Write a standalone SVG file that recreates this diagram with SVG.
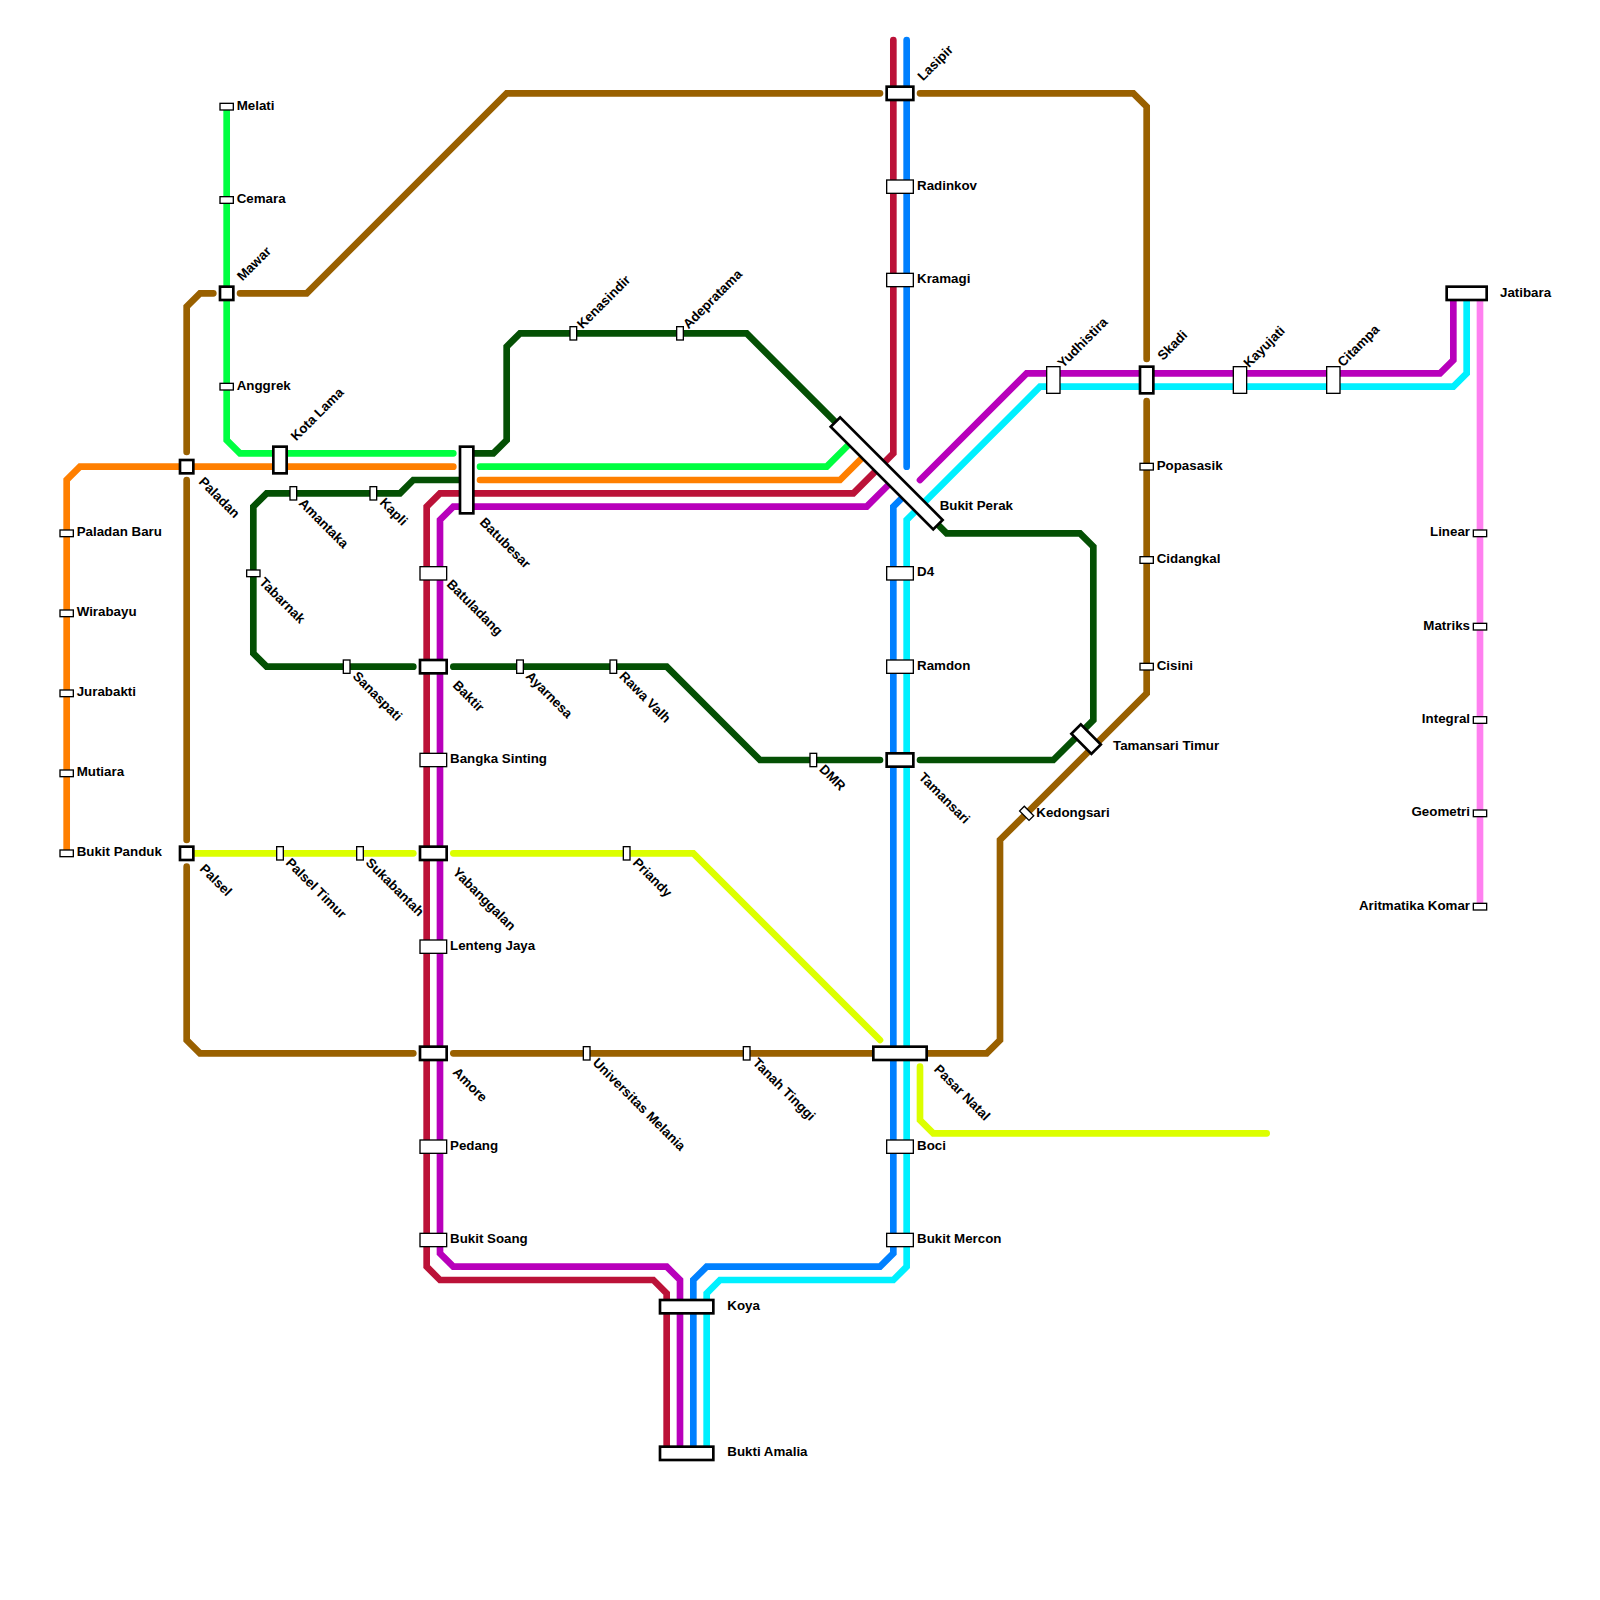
<svg xmlns="http://www.w3.org/2000/svg" width="1600" height="1600" viewBox="0 0 1600 1600">
<style>
.l{fill:none;stroke-width:6.67;stroke-linecap:round;stroke-linejoin:miter}
.or{stroke:#ff7f00}.gr{stroke:#00ff40}.dg{stroke:#045004}.cr{stroke:#bb1238}.pu{stroke:#b800bb}.bl{stroke:#0080ff}.cy{stroke:#00f0ff}.pk{stroke:#ff80f0}.br{stroke:#996000}.ye{stroke:#dcff00}
.s{fill:#fff;stroke:#000;stroke-width:1.33}
.t{fill:#fff;stroke:#000;stroke-width:2.67}
text{font-family:"Liberation Sans",Arial,sans-serif;font-weight:bold;font-size:13.33px;fill:#000}
.e{text-anchor:end}
</style>
<g id="connectors">
<path class="l pk" d="M1480 293.33V906.67"/>
<path class="l or" d="M66.67 853.33V480L80 466.67H453.33"/>
<path class="l or" d="M480 480H840L866.67 453.33"/>
<path class="l gr" d="M226.67 106.67V440L240 453.33H453.33"/>
<path class="l gr" d="M480 466.67H826.67L853.33 440"/>
<path class="l br" d="M186.67 452V306.67L200 293.33H213.33"/>
<path class="l br" d="M240 293.33H306.67L506.67 93.33H880"/>
<path class="l br" d="M920 93.33H1133.33L1146.67 106.67V359"/>
<path class="l br" d="M1146.67 401V693.33L1000 840V1040L986.67 1053.33H453.33"/>
<path class="l br" d="M186.67 480V840"/>
<path class="l br" d="M186.67 866.67V1040L200 1053.33H413.33"/>
<path class="l dg" d="M466.67 453.33H493.33L506.67 440V346.67L520 333.33H746.67L840 426.67"/>
<path class="l dg" d="M933.33 520L946.67 533.33H1080L1093.33 546.67V720L1053.33 760H920"/>
<path class="l dg" d="M880 760H760L666.67 666.67H453.33"/>
<path class="l dg" d="M413.33 666.67H266.67L253.33 653.33V506.67L266.67 493.33H400L413.33 480H466.67"/>
<path class="l ye" d="M186.67 853.33H413.33"/>
<path class="l ye" d="M453.33 853.33H693.33L880 1040"/>
<path class="l ye" d="M920 1066.67V1120L933.33 1133.33H1266.67"/>
<path class="l cr" d="M893.33 40V453.33L853.33 493.33H440L426.67 506.67V1266.67L440 1280H653.33L666.67 1293.33V1453.33"/>
<path class="l pu" d="M893.33 480L866.67 506.67H453.33L440 520V1253.33L453.33 1266.67H666.67L680 1280V1453.33"/>
<path class="l pu" d="M920 480L1026.67 373.33H1440L1453.33 360V293.33"/>
<path class="l bl" d="M906.67 40V466.67"/>
<path class="l bl" d="M906.67 493.33L893.33 506.67V1253.33L880 1266.67H706.67L693.33 1280V1453.33"/>
<path class="l cy" d="M1466.67 293.33V373.33L1453.33 386.67H1040L920 506.67L906.67 520V1266.67L893.33 1280H720L706.67 1293.33V1453.33"/>
</g>
<g id="n-melati"><rect class="s" x="220" y="103.33" width="13.33" height="6.67"/><text x="236.7" y="110">Melati</text></g>
<g id="n-cemara"><rect class="s" x="220" y="196.67" width="13.33" height="6.67"/><text x="236.7" y="203.3">Cemara</text></g>
<g id="n-mawar"><rect class="t" x="220" y="286.67" width="13.33" height="13.33"/><text transform="translate(242.5 281.5) rotate(-45)">Mawar</text></g>
<g id="n-anggrek"><rect class="s" x="220" y="383.33" width="13.33" height="6.67"/><text x="236.7" y="390">Anggrek</text></g>
<g id="n-kota-lama"><rect class="t" x="273.33" y="446.67" width="13.33" height="26.67"/><text transform="translate(296.2 441.5) rotate(-45)">Kota Lama</text></g>
<g id="n-paladan"><rect class="t" x="180" y="460" width="13.33" height="13.33"/><text transform="translate(198 482.5) rotate(45)">Paladan</text></g>
<g id="n-paladan-baru"><rect class="s" x="60" y="530" width="13.33" height="6.67"/><text x="76.7" y="536.3">Paladan Baru</text></g>
<g id="n-wirabayu"><rect class="s" x="60" y="610" width="13.33" height="6.67"/><text x="76.7" y="616.3">Wirabayu</text></g>
<g id="n-jurabakti"><rect class="s" x="60" y="690" width="13.33" height="6.67"/><text x="76.7" y="696.3">Jurabakti</text></g>
<g id="n-mutiara"><rect class="s" x="60" y="770" width="13.33" height="6.67"/><text x="76.7" y="776.3">Mutiara</text></g>
<g id="n-bukit-panduk"><rect class="s" x="60" y="850" width="13.33" height="6.67"/><text x="76.7" y="856.3">Bukit Panduk</text></g>
<g id="n-palsel"><rect class="t" x="180" y="846.67" width="13.33" height="13.33"/><text transform="translate(199 869.5) rotate(45)">Palsel</text></g>
<g id="n-palsel-timur"><rect class="s" x="276.67" y="846.67" width="6.67" height="13.33"/><text transform="translate(285 863.5) rotate(45)">Palsel Timur</text></g>
<g id="n-sukabantah"><rect class="s" x="356.67" y="846.67" width="6.67" height="13.33"/><text transform="translate(365 863.5) rotate(45)">Sukabantah</text></g>
<g id="n-amantaka"><rect class="s" x="290" y="486.67" width="6.67" height="13.33"/><text transform="translate(298 504) rotate(45)">Amantaka</text></g>
<g id="n-kapli"><rect class="s" x="370" y="486.67" width="6.67" height="13.33"/><text transform="translate(379 503.3) rotate(45)">Kapli</text></g>
<g id="n-tabarnak"><rect class="s" x="246.67" y="570" width="13.33" height="6.67"/><text transform="translate(258.5 583) rotate(45)">Tabarnak</text></g>
<g id="n-sanaspati"><rect class="s" x="343.33" y="660" width="6.67" height="13.33"/><text transform="translate(352 677) rotate(45)">Sanaspati</text></g>
<g id="n-batubesar"><rect class="t" x="460" y="446.67" width="13.33" height="66.67"/><text transform="translate(479 523) rotate(45)">Batubesar</text></g>
<g id="n-batuladang"><rect class="s" x="420" y="566.67" width="26.67" height="13.33"/><text transform="translate(446 585) rotate(45)">Batuladang</text></g>
<g id="n-baktir"><rect class="t" x="420" y="660" width="26.67" height="13.33"/><text transform="translate(452 686) rotate(45)">Baktir</text></g>
<g id="n-bangka-sinting"><rect class="s" x="420" y="753.33" width="26.67" height="13.33"/><text x="450" y="763">Bangka Sinting</text></g>
<g id="n-yabanggalan"><rect class="t" x="420" y="846.67" width="26.67" height="13.33"/><text transform="translate(452 873) rotate(45)">Yabanggalan</text></g>
<g id="n-lenteng-jaya"><rect class="s" x="420" y="940" width="26.67" height="13.33"/><text x="450" y="949.5">Lenteng Jaya</text></g>
<g id="n-amore"><rect class="t" x="420" y="1046.67" width="26.67" height="13.33"/><text transform="translate(452 1073) rotate(45)">Amore</text></g>
<g id="n-pedang"><rect class="s" x="420" y="1140" width="26.67" height="13.33"/><text x="450" y="1149.5">Pedang</text></g>
<g id="n-bukit-soang"><rect class="s" x="420" y="1233.33" width="26.67" height="13.33"/><text x="450" y="1243">Bukit Soang</text></g>
<g id="n-ayarnesa"><rect class="s" x="516.67" y="660" width="6.67" height="13.33"/><text transform="translate(525 677) rotate(45)">Ayarnesa</text></g>
<g id="n-rawa-valh"><rect class="s" x="610" y="660" width="6.67" height="13.33"/><text transform="translate(618.6 677) rotate(45)">Rawa Valh</text></g>
<g id="n-dmr"><rect class="s" x="810" y="753.33" width="6.67" height="13.33"/><text transform="translate(818.6 770) rotate(45)">DMR</text></g>
<g id="n-priandy"><rect class="s" x="623.33" y="846.67" width="6.67" height="13.33"/><text transform="translate(632 863.5) rotate(45)">Priandy</text></g>
<g id="n-universitas-melania"><rect class="s" x="583.33" y="1046.67" width="6.67" height="13.33"/><text transform="translate(592 1063.5) rotate(45)">Universitas Melania</text></g>
<g id="n-tanah-tinggi"><rect class="s" x="743.33" y="1046.67" width="6.67" height="13.33"/><text transform="translate(752 1063.5) rotate(45)">Tanah Tinggi</text></g>
<g id="n-kenasindir"><rect class="s" x="570" y="326.67" width="6.67" height="13.33"/><text transform="translate(582.5 329.5) rotate(-45)">Kenasindir</text></g>
<g id="n-adepratama"><rect class="s" x="676.67" y="326.67" width="6.67" height="13.33"/><text transform="translate(688.5 329.5) rotate(-45)">Adepratama</text></g>
<g id="n-lasipir"><rect class="t" x="886.67" y="86.67" width="26.67" height="13.33"/><text transform="translate(923 81.5) rotate(-45)">Lasipir</text></g>
<g id="n-radinkov"><rect class="s" x="886.67" y="180" width="26.67" height="13.33"/><text x="917" y="189.5">Radinkov</text></g>
<g id="n-kramagi"><rect class="s" x="886.67" y="273.33" width="26.67" height="13.33"/><text x="917" y="283">Kramagi</text></g>
<g id="n-bukit-perak"><rect class="t" x="814.17" y="466.67" width="145" height="13.33" transform="rotate(45 886.67 473.33)"/><text x="939.7" y="510">Bukit Perak</text></g>
<g id="n-d4"><rect class="s" x="886.67" y="566.67" width="26.67" height="13.33"/><text x="917" y="576">D4</text></g>
<g id="n-ramdon"><rect class="s" x="886.67" y="660" width="26.67" height="13.33"/><text x="917" y="669.5">Ramdon</text></g>
<g id="n-tamansari"><rect class="t" x="886.67" y="753.33" width="26.67" height="13.33"/><text transform="translate(918 778) rotate(45)">Tamansari</text></g>
<g id="n-pasar-natal"><rect class="t" x="873.33" y="1046.67" width="53.33" height="13.33"/><text transform="translate(933.3 1070) rotate(45)">Pasar Natal</text></g>
<g id="n-boci"><rect class="s" x="886.67" y="1140" width="26.67" height="13.33"/><text x="917" y="1149.5">Boci</text></g>
<g id="n-bukit-mercon"><rect class="s" x="886.67" y="1233.33" width="26.67" height="13.33"/><text x="917" y="1243">Bukit Mercon</text></g>
<g id="n-koya"><rect class="t" x="660" y="1300" width="53.33" height="13.33"/><text x="727.3" y="1309.5">Koya</text></g>
<g id="n-bukti-amalia"><rect class="t" x="660" y="1446.67" width="53.33" height="13.33"/><text x="727.3" y="1456">Bukti Amalia</text></g>
<g id="n-yudhistira"><rect class="s" x="1046.67" y="366.67" width="13.33" height="26.67"/><text transform="translate(1063 368.5) rotate(-45)">Yudhistira</text></g>
<g id="n-skadi"><rect class="t" x="1140" y="366.67" width="13.33" height="26.67"/><text transform="translate(1163 361) rotate(-45)">Skadi</text></g>
<g id="n-kayujati"><rect class="s" x="1233.33" y="366.67" width="13.33" height="26.67"/><text transform="translate(1249 368.2) rotate(-45)">Kayujati</text></g>
<g id="n-citampa"><rect class="s" x="1326.67" y="366.67" width="13.33" height="26.67"/><text transform="translate(1343 367.5) rotate(-45)">Citampa</text></g>
<g id="n-jatibara"><rect class="t" x="1446.67" y="286.67" width="40" height="13.33"/><text x="1500" y="296.5">Jatibara</text></g>
<g id="n-popasasik"><rect class="s" x="1140" y="463.33" width="13.33" height="6.67"/><text x="1156.7" y="470">Popasasik</text></g>
<g id="n-cidangkal"><rect class="s" x="1140" y="556.67" width="13.33" height="6.67"/><text x="1156.7" y="563">Cidangkal</text></g>
<g id="n-cisini"><rect class="s" x="1140" y="663.33" width="13.33" height="6.67"/><text x="1156.7" y="669.5">Cisini</text></g>
<g id="n-tamansari-timur"><rect class="t" x="1072" y="732.33" width="28.3" height="13.33" transform="rotate(45 1086 739)"/><text x="1113" y="750">Tamansari Timur</text></g>
<g id="n-kedongsari"><rect class="s" x="1020" y="810" width="13.33" height="6.67" transform="rotate(45 1026.67 813.33)"/><text x="1036.3" y="816.7">Kedongsari</text></g>
<g id="n-linear"><rect class="s" x="1473.33" y="530" width="13.33" height="6.67"/><text class="e" x="1470" y="536.3">Linear</text></g>
<g id="n-matriks"><rect class="s" x="1473.33" y="623.33" width="13.33" height="6.67"/><text class="e" x="1470" y="629.5">Matriks</text></g>
<g id="n-integral"><rect class="s" x="1473.33" y="716.67" width="13.33" height="6.67"/><text class="e" x="1470" y="723">Integral</text></g>
<g id="n-geometri"><rect class="s" x="1473.33" y="810" width="13.33" height="6.67"/><text class="e" x="1470" y="816.3">Geometri</text></g>
<g id="n-aritmatika-komar"><rect class="s" x="1473.33" y="903.33" width="13.33" height="6.67"/><text class="e" x="1470" y="909.5">Aritmatika Komar</text></g>
</svg>
